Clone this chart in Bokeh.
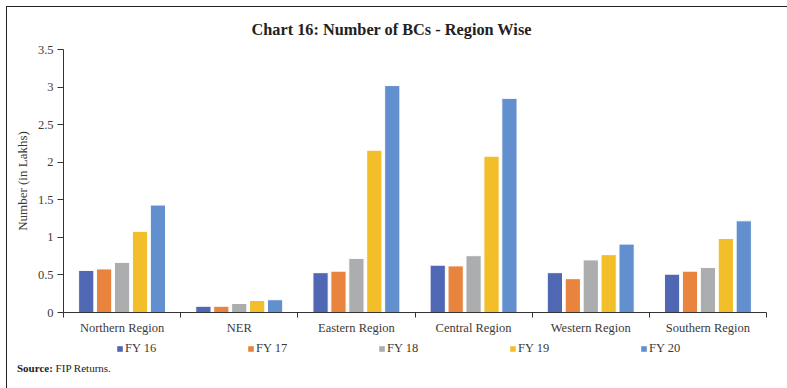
from bokeh.plotting import figure
from bokeh.models import ColumnDataSource, FixedTicker, Legend, LegendItem, Range1d, Div
from bokeh.layouts import column
from bokeh.transform import dodge
from bokeh.embed import file_html
from bokeh.resources import INLINE

regions = ["Northern Region", "NER", "Eastern Region", "Central Region", "Western Region", "Southern Region"]
series_names = ["FY 16", "FY 17", "FY 18", "FY 19", "FY 20"]
fy16 = [0.56, 0.083, 0.53, 0.63, 0.53, 0.51]
fy17 = [0.58, 0.083, 0.55, 0.62, 0.45, 0.55]
fy18 = [0.667, 0.12, 0.72, 0.756, 0.70, 0.60]
fy19 = [1.08, 0.16, 2.16, 2.08, 0.77, 0.985]
fy20 = [1.43, 0.17, 3.02, 2.85, 0.91, 1.22]
colors = ["#5067B3", "#E9843F", "#ABADAF", "#F2BE2A", "#6290CE"]
y_ticks = [0, 0.5, 1, 1.5, 2, 2.5, 3, 3.5]
source_label = "Source:"
source_text = "FIP Returns."

FONT = "Liberation Serif"
TXT = "#3a3a3a"
W = 771

xc = [i + 0.5 for i in range(len(regions))]
src = ColumnDataSource(dict(xc=xc, fy16=fy16, fy17=fy17, fy18=fy18, fy19=fy19, fy20=fy20))
cols = ["fy16", "fy17", "fy18", "fy19", "fy20"]

p = figure(width=W, height=332, output_backend="svg", toolbar_location=None,
           x_range=Range1d(0, len(regions)), y_range=Range1d(0, 3.5),
           min_border_left=56, min_border_right=12, min_border_top=41, min_border_bottom=27)
p.outline_line_color = None
p.xgrid.visible = False
p.ygrid.visible = False

p.title.text = "Chart 16: Number of BCs - Region Wise"
p.title.align = "left"
p.title.offset = 188
p.title.text_font = FONT
p.title.text_font_size = "16.3px"
p.title.text_font_style = "bold"
p.title.text_color = "#222222"
p.title.standoff = 21

offsets = [-0.306, -0.153, 0.0, 0.153, 0.306]
for col, off, c in zip(cols, offsets, colors):
    p.vbar(x=dodge("xc", off, range=p.x_range), top=col, width=0.13, source=src,
           fill_color=c, line_color="white", line_width=1)

# y axis
p.yaxis.ticker = FixedTicker(ticks=y_ticks)
p.yaxis.major_label_overrides = {t: (str(int(t)) if float(t).is_integer() else str(t)) for t in y_ticks}
p.yaxis.major_tick_out = 6
p.yaxis.major_tick_in = 0
p.yaxis.axis_label = "Number (in Lakhs)"
p.yaxis.axis_label_text_font = FONT
p.yaxis.axis_label_text_font_style = "normal"
p.yaxis.axis_label_text_font_size = "13px"
p.yaxis.axis_label_text_color = TXT
p.yaxis.axis_label_standoff = 5
p.yaxis.major_label_text_font = FONT
p.yaxis.major_label_text_font_size = "12.5px"
p.yaxis.major_label_text_color = TXT
p.yaxis.major_label_standoff = 4

# x axis: labels at centres, ticks at boundaries
p.xaxis.ticker = FixedTicker(ticks=xc, minor_ticks=list(range(len(regions) + 1)))
p.xaxis.major_label_overrides = {x: r for x, r in zip(xc, regions)}
p.xaxis.major_tick_out = 0
p.xaxis.major_tick_in = 0
p.xaxis.minor_tick_out = 5
p.xaxis.minor_tick_in = 0
p.xaxis.major_label_standoff = 3
p.xaxis.major_label_text_font = FONT
p.xaxis.major_label_text_font_size = "12.5px"
p.xaxis.major_label_text_color = TXT

for ax in (p.xaxis, p.yaxis):
    ax.axis_line_color = "#333333"
    ax.major_tick_line_color = "#333333"
    ax.minor_tick_line_color = "#333333"
p.yaxis.minor_tick_line_color = None

# legend strip (same data, drawn off-range so only the legend shows)
foot = figure(width=W, height=20, output_backend="svg", toolbar_location=None,
              x_range=Range1d(0, len(regions)), y_range=Range1d(10, 11),
              x_axis_location=None, y_axis_location=None, min_border=0)
foot.outline_line_color = None
foot.xgrid.visible = False
foot.ygrid.visible = False
items = []
for col, c, name in zip(cols, colors, series_names):
    r = foot.vbar(x="xc", top=col, width=0.1, source=src, fill_color=c, line_color=None)
    items.append(LegendItem(label=name, renderers=[r]))
legend = Legend(items=items, orientation="horizontal", location=(53, 3),
                glyph_width=7, glyph_height=7, label_standoff=2, label_width=122, spacing=0,
                padding=0, margin=0, border_line_alpha=0, background_fill_alpha=0,
                label_text_font=FONT, label_text_font_size="12.5px", label_text_color=TXT,
                label_text_align="left")
foot.add_layout(legend, "center")

div = Div(text=f"<b>{source_label}</b> {source_text}", width=W, height=19,
          styles={"font-family": FONT, "font-size": "11px", "color": "#222222",
                  "padding-left": "5px", "line-height": "8px"})

layout = column(p, foot, div, spacing=0,
                styles={"border": "1px solid #222222", "margin": "6px 0 0 6px"})

open("out.html", "w").write(file_html(layout, INLINE))
